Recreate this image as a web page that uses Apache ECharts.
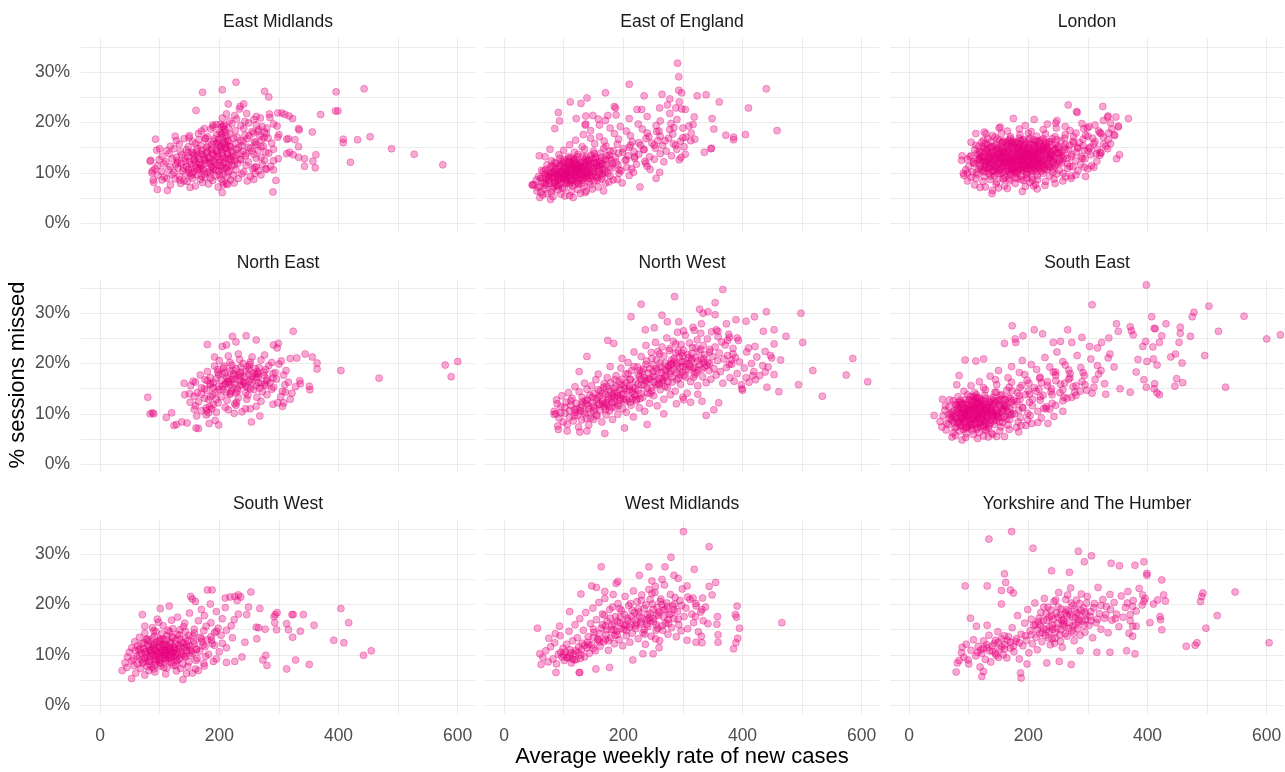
<!DOCTYPE html>
<html>
<head>
<meta charset="utf-8">
<script src="https://cdn.jsdelivr.net/npm/echarts@6/dist/echarts.min.js"></script>
<style>
  html, body { margin: 0; padding: 0; background: #fff; }
  #chart { width: 1285px; height: 772px; }
</style>
</head>
<body>
<div id="chart"></div>
<script>
// facet names, in panel order (row by row)
var regions = ['East Midlands', 'East of England', 'London', 'North East', 'North West',
  'South East', 'South West', 'West Midlands', 'Yorkshire and The Humber'];

// axis ticks
var xGrid = [0, 100, 200, 300, 400, 500, 600];
var xLabels = [0, 200, 400, 600];
var yGrid = [0, 5, 10, 15, 20, 25, 30, 35];
var yLabels = [0, 10, 20, 30];

// [average weekly rate of new cases, % sessions missed]
var eastMidlands = [
  [228,28.0],[172,26.0],[205,26.5],[276,26.2],[283,25.1],[396,26.1],[443,26.7],[395,22.3],[399,22.3],[370,21.6],
  [453,17.2],[432,16.6],[408,16.7],[408,16.0],[420,12.1],[489,14.8],[527,13.7],[575,11.6],[356,18.1],[333,18.8],
  [334,18.5],[333,15.2],[333,13.1],[343,12.8],[343,11.3],[357,12.3],[361,11.0],[362,13.6],[324,13.6],[318,14.1],
  [313,13.8],[327,16.6],[316,16.8],[313,16.7],[323,20.8],[317,21.3],[310,21.6],[305,21.9],[298,21.9],[284,21.7],
  [285,21.0],[290,6.2],[295,8.5],[291,10.6],[291,12.4],[299,12.8],[298,17.1],[300,17.6],[291,19.7],[297,19.3],
  [280,18.9],[278,10.8],[258,8.7],[260,9.9],[262,11.2],[241,23.7],[235,23.2],[234,22.7],[215,23.7],[212,21.7],
  [205,20.9],[161,22.4],[126,17.3],[93,16.7],[95,14.5],[100,14.8],[85,12.5],[84,12.3],[88,10.4],[87,10.0],
  [89,8.6],[90,8.1],[96,6.7],[113,6.5],[151,7.1],[205,6.1],[207,7.6],[206,8.2],[212,7.9],[134,8.6],
  [175,18.8],[189,19.5],[190,19.1],[204,19.1],[202,19.6],[176,16.8],[149,17.0],
  [118,7.6],[135,7.9],[160,7.4],[182,7.8],[198,7.2],[214,7.7],[225,8.0],[172,8.1],[146,8.3],
  [104,8.6],[126,8.8],[141,8.4],[155,8.9],[168,8.7],[189,8.5],[203,8.8],[219,8.6],[232,8.9],[247,8.4],[112,8.9],
  [97,9.5],[108,9.2],[121,9.7],[133,9.3],[144,9.8],[152,9.4],[163,9.6],[176,9.1],[185,9.9],[194,9.4],[206,9.7],[213,9.2],[224,9.5],[238,9.8],[252,9.3],[270,9.6],
  [92,10.8],[103,10.3],[115,10.6],[124,10.1],[131,10.9],[139,10.4],[148,10.7],[157,10.2],[166,10.8],[173,10.5],[181,10.1],[190,10.7],[199,10.3],[209,10.9],[217,10.4],[228,10.6],[241,10.2],[256,10.8],[266,10.4],[279,10.7],
  [96,11.4],[107,11.8],[118,11.2],[127,11.6],[136,11.9],[145,11.3],[153,11.7],[161,11.1],[170,11.5],[178,11.9],[187,11.3],[196,11.6],[204,11.2],[212,11.8],[221,11.4],[231,11.9],[245,11.5],[259,11.1],[272,11.7],[286,11.3],
  [99,12.6],[110,12.2],[121,12.8],[130,12.4],[142,12.9],[150,12.3],[158,12.7],[167,12.1],[175,12.5],[184,12.9],[192,12.2],[201,12.6],[208,12.1],[216,12.8],[226,12.4],[236,12.7],[249,12.2],[262,12.9],[276,12.5],
  [104,13.3],[116,13.8],[128,13.1],[137,13.6],[147,13.2],[156,13.9],[164,13.4],[172,13.7],[181,13.1],[190,13.5],[198,13.9],[206,13.3],[214,13.6],[223,13.2],[233,13.8],[244,13.4],[258,13.7],[270,13.1],[283,13.9],
  [112,14.4],[124,14.8],[135,14.2],[145,14.6],[154,14.1],[163,14.9],[171,14.5],[180,14.3],[188,14.8],[196,14.2],[204,14.6],[211,14.9],[220,14.4],[229,14.7],[240,14.2],[252,14.9],[265,14.5],[278,14.1],[291,14.7],
  [118,15.3],[133,15.7],[148,15.2],[160,15.8],[169,15.4],[179,15.1],[187,15.6],[195,15.9],[203,15.3],[210,15.7],[219,15.2],[227,15.8],[238,15.4],[249,15.1],[262,15.6],[274,15.3],[288,15.9],
  [128,16.4],[141,16.8],[155,16.2],[166,16.6],[177,16.9],[190,16.3],[199,16.7],[207,16.1],[214,16.5],[224,16.9],[236,16.4],[247,16.8],[259,16.2],[271,16.6],[282,16.9],
  [150,17.4],[165,17.8],[180,17.2],[196,17.6],[205,17.9],[212,17.3],[218,17.7],[230,17.1],[243,17.5],[257,17.9],[268,17.3],[279,17.8],
  [170,18.3],[186,18.7],[201,18.1],[209,18.6],[215,18.9],[227,18.4],[241,18.8],[255,18.2],[266,18.6],[276,18.1],
  [195,19.6],[207,19.3],[221,19.8],[236,19.4],[249,19.9],[262,19.5],[272,19.2],
  [217,20.3],[229,20.7],[243,20.2],[258,20.6],[269,20.9],[226,21.4],[246,21.8],[262,21.2],
  [160,12.0],[175,13.0],[185,12.0],[195,13.0],[205,14.0],[168,11.0],[190,11.0],[200,12.0],[210,13.0],[178,14.0],
  [158,13.5],[205,10.5],[215,11.5],[188,13.8],[165,12.8],[140,11.0],[130,12.0],[150,10.0],[220,12.5],[212,15.0],
  [198,16.0],[205,17.0],[210,18.0],[208,19.5],[215,16.2],[202,15.2],[195,14.5],[185,10.5],[175,9.8],[163,10.6]
];
var eastMidlandsCore = [
  [143,12.3],[148,14.0],[153,10.9],[157,12.5],[162,14.2],[166,11.7],[169,13.8],[173,10.8],[177,12.6],[181,15.6],
  [183,11.9],[186,14.4],[189,12.4],[192,16.8],[194,10.6],[197,13.3],[199,15.5],[201,11.4],[203,17.6],[206,12.7],
  [208,14.8],[210,16.4],[212,11.0],[214,13.9],[217,15.3],[219,12.9],[222,14.0],[225,11.6],[228,13.5],[232,15.0],
  [236,12.6],[240,16.2],[245,13.8],[250,17.4],[255,14.3],[260,16.0],[265,18.2],[270,15.2],[275,17.0],[155,9.8],
  [170,9.4],[185,9.0],[200,9.6],[215,10.1]
];

var eastOfEngland = [
  [291,31.8],[293,29.1],[210,27.6],[170,25.9],[111,24.1],[129,23.8],[139,24.9],[91,22.0],[93,20.3],[121,20.8],
  [137,21.3],[149,21.4],[158,20.7],[174,21.4],[185,23.2],[187,22.9],[223,22.6],[231,22.6],[235,25.3],[265,25.6],
  [278,24.7],[274,23.5],[261,22.9],[293,26.4],[298,25.9],[294,24.1],[288,22.9],[298,22.7],[304,22.6],[324,25.3],
  [339,25.5],[361,24.1],[440,26.7],[410,22.9],[458,18.4],[349,20.8],[352,18.7],[372,17.5],[385,17.1],[385,16.6],
  [405,17.6],[336,14.1],[347,14.8],[348,14.9],[319,21.1],[317,19.6],[314,17.9],[313,16.4],[304,13.7],[294,12.6],
  [297,13.1],[288,15.5],[255,8.9],[261,10.1],[245,10.7],[238,11.9],[228,7.2],[217,10.1],[198,8.0],[183,8.6],
  [167,6.4],[157,8.5],[137,19.7],[136,19.5],[85,18.8],[77,14.7],[59,13.4],[69,13.2],[47,7.6],[48,7.6],
  [60,5.1],[78,4.7],[102,5.4],[116,5.1],[138,6.4],
  [65,5.6],[82,5.3],[95,5.8],[110,5.5],[128,5.9],[72,5.9],
  [55,6.4],[68,6.8],[79,6.2],[90,6.6],[101,6.9],[113,6.3],[124,6.7],[136,6.1],[148,6.8],[62,6.1],
  [50,7.7],[60,7.3],[71,7.8],[83,7.2],[92,7.6],[104,7.9],[115,7.4],[125,7.8],[134,7.3],[145,7.7],[158,7.2],[170,7.9],
  [54,8.6],[64,8.2],[75,8.8],[86,8.4],[96,8.9],[105,8.3],[114,8.7],[122,8.1],[131,8.6],[140,8.9],[151,8.4],[163,8.8],[176,8.2],[190,8.7],
  [58,9.3],[69,9.8],[80,9.2],[90,9.6],[99,9.1],[108,9.7],[117,9.4],[126,9.9],[135,9.2],[144,9.6],[154,9.3],[165,9.8],[178,9.4],[193,9.9],[210,9.5],
  [63,10.5],[75,10.1],[86,10.7],[95,10.3],[104,10.8],[113,10.2],[121,10.6],[130,10.9],[139,10.3],[148,10.7],[158,10.1],[169,10.5],[181,10.9],[196,10.4],[214,10.8],
  [72,11.6],[84,11.2],[97,11.8],[108,11.3],[118,11.7],[127,11.1],[136,11.5],[145,11.9],[155,11.4],[166,11.8],[178,11.2],[191,11.6],[206,11.1],[222,11.7],[240,11.3],
  [80,12.4],[94,12.9],[107,12.3],[120,12.7],[132,12.2],[143,12.6],[154,12.9],[164,12.4],[176,12.8],[188,12.1],[203,12.5],[219,12.9],[236,12.3],[252,12.7],[268,12.2],
  [92,13.6],[108,13.2],[124,13.7],[138,13.3],[151,13.8],[163,13.1],[176,13.5],[192,13.9],[208,13.4],[226,13.7],[244,13.2],[262,13.8],[281,13.4],
  [100,14.5],[118,14.1],[135,14.7],[150,14.3],[167,14.9],[183,14.4],[200,14.8],[218,14.2],[235,14.6],[254,14.9],[272,14.3],[290,14.7],
  [110,15.6],[131,15.2],[152,15.8],[171,15.3],[190,15.7],[210,15.1],[229,15.5],[248,15.9],[266,15.4],[284,15.8],[302,15.2],
  [120,16.5],[145,16.9],[168,16.3],[192,16.7],[215,16.2],[238,16.8],[258,16.4],[276,16.9],[296,16.3],[320,16.7],
  [133,17.6],[160,17.2],[185,17.8],[212,17.4],[240,17.9],[262,17.3],[283,17.7],[305,17.1],
  [145,18.4],[178,18.9],[205,18.3],[232,18.7],[256,18.2],[278,18.6],[300,18.9],
  [160,19.5],[195,19.2],[225,19.7],[255,19.4],[280,19.8],[310,19.3],
  [170,20.4],[210,20.8],[262,20.3],[290,20.6],[188,21.5],[240,21.2],[278,21.8],
  [100,9.0],[110,10.0],[120,9.5],[95,8.0],[105,11.0],[115,8.5],[125,10.5],[85,9.5],[130,9.8],[90,10.8],
  [140,10.0],[100,12.0],[110,11.5],[120,12.0],[75,8.5],[88,7.5],[130,11.3],[145,9.0],[150,11.0],[160,10.5],
  [118,10.8],[108,9.5],[98,10.2],[128,8.8],[138,12.0],[80,10.0],[70,9.0],[112,13.0],[155,12.0],[170,11.5]
];
var eastOfEnglandCore = [
  [57,7.1],[61,8.9],[66,10.3],[70,7.5],[73,9.4],[77,11.0],[81,6.8],[83,8.9],[85,12.1],[88,9.9],
  [91,7.3],[93,11.5],[96,10.0],[98,7.0],[101,12.6],[103,9.2],[106,10.4],[109,8.0],[111,12.2],[113,9.7],
  [116,11.2],[119,7.7],[121,10.1],[123,13.2],[126,9.1],[128,11.9],[131,7.9],[133,10.6],[136,12.8],[138,9.5],
  [141,11.0],[143,8.2],[146,13.5],[149,10.2],[152,12.0],[156,9.0],[159,11.4],[162,13.9],[166,10.8],[170,12.6],
  [174,9.9],[178,14.3],[182,11.8],[187,13.1],[193,10.6],[199,14.1],[205,12.6],[212,15.5],[219,13.2],[226,16.0],
  [234,14.7],[243,17.2],[252,15.5],[260,18.3],[270,16.4],[285,19.0],[300,17.0],[105,9.9],[95,9.3],[115,10.5],
  [125,11.3],[85,10.3],[135,9.9],[100,8.6],[110,7.8],[120,8.9],[90,8.5],[78,9.7],[68,8.0],[130,10.2],
  [140,9.4],[150,12.8],[160,9.7],[118,12.4],[108,12.8],[142,11.7],
  [90,9.2],[100,10.6],[110,9.0],[120,10.4],[130,12.0],[95,11.4],[105,8.6],[115,12.0],[125,8.4],[135,11.1],
  [85,8.1],[140,12.5],[145,10.4],[80,11.4],[75,9.2],[150,9.9],[155,11.5],[160,12.2],[165,9.3],[170,10.1],
  [102,11.1],[112,10.9],[122,11.6],[92,10.1],[132,9.6],
  [64,9.0],[70,10.6],[76,7.9],[82,10.0],[87,11.9],[92,8.8],[97,12.3],[102,9.6],[107,11.7],[112,8.4],
  [117,12.7],[122,9.3],[127,11.6],[132,13.3],[137,10.6],[142,12.2],[147,9.4],[153,13.1],[158,10.9],[164,11.8],
  [172,13.4],[180,12.5],[104,10.1],[94,9.8],[114,11.4],[124,10.7],[134,8.9],[84,7.9],[144,11.3],[119,9.9]
];

var london = [
  [267,23.5],[281,22.2],[282,22.0],[325,23.2],[368,20.8],[347,21.1],[334,21.3],[351,19.3],[351,19.1],[344,17.6],
  [338,15.8],[353,13.6],[348,12.8],[333,14.8],[321,14.1],[320,13.5],[310,11.1],[294,11.1],[272,9.4],[275,11.2],
  [259,9.9],[209,7.4],[207,8.6],[139,5.9],[119,7.1],[89,13.4],[88,12.5],[91,9.9],[98,9.9],[104,16.1],
  [112,17.8],[126,18.1],[129,17.8],[153,19.1],[151,18.9],[175,20.8],[210,20.6],[248,20.4],[246,19.9],[302,19.2],
  [299,18.9],[333,21.1],[326,20.4],[326,17.1],[282,15.1],[294,14.5],[304,15.1],
  [140,6.5],[165,6.9],[190,6.3],[215,6.8],[150,7.0],
  [110,7.6],[128,7.2],[146,7.8],[160,7.4],[178,7.9],[195,7.3],[212,7.7],[228,7.5],[245,7.9],
  [98,8.4],[112,8.9],[124,8.3],[136,8.7],[147,8.2],[158,8.8],[169,8.4],[181,8.9],[192,8.5],[203,8.1],[216,8.7],[229,8.3],[243,8.8],[258,8.4],[272,8.9],
  [92,9.5],[104,9.1],[115,9.7],[126,9.3],[134,9.9],[143,9.4],[152,9.8],[161,9.2],[170,9.6],[179,9.9],[188,9.3],[197,9.7],[206,9.1],[215,9.5],[225,9.9],[236,9.4],[248,9.8],[262,9.2],[280,9.6],[296,9.3],
  [95,10.6],[106,10.2],[117,10.8],[125,10.4],[133,10.9],[141,10.3],[149,10.7],[157,10.1],[165,10.5],[173,10.9],[181,10.4],[189,10.8],[197,10.2],[205,10.6],[213,10.9],[222,10.3],[231,10.7],[241,10.1],[252,10.5],[266,10.9],[283,10.4],[300,10.8],
  [100,11.3],[110,11.8],[120,11.2],[128,11.6],[136,11.1],[144,11.5],[152,11.9],[160,11.4],[168,11.8],[176,11.2],[184,11.6],[192,11.1],[200,11.5],[208,11.9],[216,11.3],[225,11.7],[234,11.2],[244,11.6],[256,11.9],[270,11.3],[288,11.7],[306,11.4],
  [98,12.7],[108,12.2],[118,12.8],[127,12.3],[135,12.9],[143,12.4],[151,12.8],[159,12.1],[167,12.5],[175,12.9],[183,12.3],[191,12.7],[199,12.2],[207,12.6],[215,12.9],[224,12.4],[233,12.8],[242,12.1],[253,12.6],[265,12.9],[279,12.4],[295,12.8],[315,12.3],
  [104,13.4],[114,13.9],[123,13.3],[132,13.8],[140,13.2],[148,13.6],[156,13.1],[164,13.7],[172,13.3],[180,13.8],[188,13.2],[196,13.6],[204,13.9],[212,13.4],[221,13.8],[230,13.1],[239,13.5],[249,13.9],[260,13.3],[273,13.7],[289,13.2],[305,13.6],[322,13.9],
  [110,14.6],[121,14.1],[131,14.7],[140,14.3],[149,14.8],[157,14.2],[166,14.6],[174,14.1],[183,14.7],[191,14.3],[200,14.8],[208,14.2],[217,14.6],[226,14.9],[235,14.4],[245,14.8],[256,14.2],[268,14.6],[283,14.9],[300,14.3],[316,14.7],
  [117,15.3],[128,15.8],[138,15.2],[147,15.6],[156,15.9],[165,15.4],[174,15.8],[183,15.2],[192,15.6],[201,15.1],[210,15.5],[219,15.9],[229,15.3],[239,15.7],[250,15.2],[262,15.6],[276,15.9],[292,15.4],[310,15.8],[330,15.3],
  [125,16.5],[137,16.1],[148,16.7],[159,16.3],[170,16.8],[181,16.2],[192,16.6],[203,16.9],[214,16.4],[225,16.8],[236,16.2],[248,16.6],[261,16.9],[275,16.3],[292,16.7],[312,16.2],[334,16.6],
  [140,17.4],[155,17.8],[170,17.2],[186,17.6],[200,17.9],[214,17.3],[229,17.7],[245,17.2],[262,17.6],[280,17.9],[300,17.3],[322,17.8],[345,17.4],
  [165,18.3],[185,18.7],[205,18.2],[225,18.6],[247,18.9],[270,18.4],[293,18.8],[318,18.3],[340,18.7],
  [195,19.4],[232,19.7],[262,19.2],[290,19.8],[312,19.5],[338,19.9],
  [150,12.0],[160,12.6],[170,13.0],[180,12.2],[190,13.5],[200,12.8],[210,13.2],[165,11.5],[175,14.0],[185,11.8],
  [195,14.3],[205,11.7],[215,14.0],[140,12.5],[130,12.0],[220,12.0],[155,13.5],[145,11.0],[185,15.0],[175,10.5],
  [195,10.8],[160,14.5],[170,15.2],[200,15.5],[210,10.5],[150,15.0],[225,13.5],[135,14.0],[188,12.5],[178,13.2],
  [168,12.3],[158,11.2],[198,11.3],[208,14.5],[218,15.0],[228,12.5],[238,14.0],[148,13.0],[138,11.7],[128,13.2],
  [120,12.5],[118,14.2],[245,13.0],[250,15.0],[180,16.0],[190,16.5],[162,16.0],[212,16.0],[172,11.0],[182,10.0],
  [192,12.0],[202,13.8],[154,10.6],[164,13.8],[174,12.4],[184,14.6],[194,13.0],[142,15.3],[132,10.8],[222,11.4]
];
var londonCore = [
  [113,10.1],[119,11.4],[124,12.2],[129,14.5],[134,12.7],[137,9.4],[142,13.9],[146,10.9],[151,14.1],[153,12.3],
  [157,16.2],[162,10.3],[163,12.9],[167,14.3],[169,9.9],[171,16.1],[173,12.1],[176,15.4],[177,10.2],[179,11.6],
  [182,14.9],[184,13.3],[186,10.8],[187,16.4],[189,12.6],[191,15.1],[193,11.3],[194,13.7],[196,16.0],[198,9.8],
  [199,14.1],[201,12.4],[203,10.7],[204,15.8],[206,13.5],[207,11.1],[209,16.6],[211,12.1],[213,14.7],[214,10.2],
  [216,13.0],[218,16.3],[219,11.8],[221,14.5],[223,12.3],[226,15.4],[227,10.6],[231,13.7],[233,12.0],[235,16.1],
  [237,11.2],[240,14.3],[243,12.7],[246,15.6],[249,11.9],[252,13.9],[255,16.4],[258,12.8],[262,14.7],[266,11.8],
  [269,15.5],[272,13.2],[276,17.2],[281,14.1],[286,16.0],[291,12.9],[296,17.5],[302,14.9],[308,16.9],[314,13.8],
  [320,18.0],[326,15.7],[335,17.9],[148,9.8],[158,8.9],[168,8.8],[178,9.1],[188,8.7],[198,8.9],[138,10.2],
  [128,11.0],[118,12.9],[108,11.9],[102,13.2],[112,15.5],[122,16.1],[132,16.8],[144,17.1],[156,11.7],[166,13.1],
  [174,14.7],[183,12.9],[192,14.9],[202,11.6],[212,13.6],[222,14.1],[232,15.0],[242,13.3],[152,13.2],[162,15.2],
  [172,10.6],[181,12.5],[191,10.4],[201,16.7],[211,15.2],[220,10.9],[230,11.6],[240,16.8],[250,14.0],[260,15.1],
  [171,13.6],[186,13.9],[196,12.4],[206,12.9],[217,12.6],[160,13.1],
  [115,12.6],[125,14.9],[135,13.3],[145,12.9],[155,14.6],[165,10.9],[175,11.9],[185,16.9],[195,11.7],[205,13.1],
  [215,12.4],[225,14.8],[235,13.0],[245,11.3],[255,13.5],[122,10.7],[132,15.5],[142,10.4],[152,16.4],[162,11.9],
  [172,14.9],[182,11.4],[192,13.3],[202,14.4],[212,11.4],[222,16.5],[232,14.4],[150,13.7],[160,12.2],[170,12.0],
  [180,14.3],[190,12.9],[200,10.9],[210,14.0],[220,13.3],[230,15.8],[240,12.4],[187,11.1],[177,15.9],[167,16.5],
  [157,15.0],[147,14.4],[137,12.1],[127,12.6],[117,13.6],[197,14.7],[207,15.6],[217,11.0],[227,13.9],[237,12.9],
  [121,13.1],[126,10.2],[131,12.3],[136,15.1],[141,11.9],[146,14.9],[151,10.4],[156,12.7],[161,14.0],[166,15.9],
  [171,12.6],[176,10.7],[181,13.5],[186,15.6],[191,11.9],[196,14.0],[201,12.0],[206,10.3],[211,13.8],[216,15.4],
  [221,12.7],[226,11.0],[231,14.7],[236,13.6],[241,10.8],[124,15.2],[134,11.4],[144,13.4],[154,11.1],[164,12.0],
  [174,16.3],[184,10.6],[194,15.5],[204,13.2],[214,11.7],[224,15.1],[234,11.4],[244,14.6],[158,14.1],[168,10.2],
  [178,12.8],[188,14.2],[198,13.6],[208,12.2],[218,14.2],[228,16.2],[148,11.6],[138,13.7],[128,14.1],[253,12.2]
];

var northEast = [
  [600,20.4],[579,19.7],[589,17.4],[468,17.1],[404,18.6],[364,18.9],[364,20.1],[356,21.3],[344,21.9],[324,26.4],
  [330,21.1],[319,21.0],[351,15.5],[352,14.8],[335,16.6],[336,16.0],[319,12.9],[308,12.2],[306,11.5],[311,14.3],
  [299,24.0],[297,23.1],[291,23.7],[262,24.7],[245,25.5],[222,25.4],[228,24.3],[212,23.7],[205,23.4],[180,23.8],
  [192,21.3],[254,8.4],[268,9.6],[244,11.0],[252,11.0],[225,10.1],[226,12.0],[199,7.8],[193,8.7],[183,8.1],
  [165,7.1],[161,7.2],[146,8.2],[137,8.4],[124,7.7],[128,7.9],[111,9.3],[120,10.2],[90,10.0],[84,10.0],
  [88,10.2],[80,13.3],[141,16.1],[142,13.8],[150,14.0],[156,16.5],[151,12.3],[158,10.9],[162,9.6],[179,10.7],[184,11.4],
  [170,10.6],[195,10.3],[215,10.8],[238,10.4],
  [160,11.6],[178,11.2],[190,11.8],[210,11.3],[228,11.7],[262,11.5],[290,11.9],
  [165,12.4],[182,12.8],[198,12.2],[213,12.7],[229,12.3],[246,12.9],[270,12.5],[298,12.2],
  [158,13.5],[175,13.1],[189,13.8],[203,13.4],[218,13.9],[232,13.2],[248,13.7],[263,13.3],[280,13.8],[303,13.4],
  [163,14.2],[179,14.7],[193,14.3],[206,14.8],[219,14.1],[231,14.6],[244,14.2],[258,14.8],[272,14.4],[288,14.9],[306,14.5],[322,14.1],
  [152,15.6],[170,15.2],[185,15.8],[198,15.4],[210,15.9],[222,15.3],[235,15.7],[248,15.2],[262,15.6],[276,15.9],[291,15.3],[310,15.8],[328,15.4],
  [160,16.3],[176,16.8],[190,16.2],[203,16.7],[215,16.3],[227,16.9],[240,16.4],[253,16.8],[266,16.2],[280,16.6],[296,16.9],[316,16.3],
  [168,17.7],[185,17.2],[199,17.8],[212,17.3],[224,17.9],[236,17.4],[249,17.8],[262,17.2],[275,17.6],[290,17.1],[308,17.7],
  [180,18.4],[197,18.8],[210,18.2],[223,18.7],[236,18.3],[250,18.9],[264,18.4],[278,18.8],[294,18.2],[312,18.6],
  [192,19.5],[207,19.1],[221,19.7],[236,19.3],[251,19.8],[267,19.2],[283,19.6],[300,19.9],
  [200,20.6],[218,20.2],[234,20.8],[252,20.3],[270,20.7],[288,20.2],[304,20.5],
  [215,21.5],[232,21.9],[255,21.3],[276,21.7],
  [225,16.0],[235,18.0],[245,15.5],[215,17.0],[205,18.0],[255,17.5],[228,19.0],[240,20.0],[220,14.5],[250,16.5],
  [265,18.0],[210,16.0],[195,17.0],[185,16.0],[175,15.0],[230,15.0],[260,19.0],[270,16.0],[280,17.0],[200,14.8],
  [242,17.3],[218,18.5],[187,11.0],[182,10.2],[178,9.8]
];
var northEastCore = [
  [205,15.5],[215,16.5],[225,17.5],[235,16.6],[245,18.5],[255,16.3],[265,17.3],[275,18.3],[285,16.2],[198,18.3],
  [208,19.5],[218,15.8],[228,14.2],[238,15.8],[248,19.4],[258,18.1],[268,15.1],[278,15.6],[212,14.3],[222,16.9],
  [232,17.7],[242,16.1],[252,15.0],[262,17.8],[190,15.2],[180,16.6],[170,13.9],[195,12.9],[185,13.4],[290,18.0]
];

var northWest = [
  [367,34.7],[286,33.3],[230,31.8],[213,29.3],[265,29.6],[328,30.8],[342,30.3],[334,30.0],[354,32.1],[354,29.7],
  [389,28.7],[406,28.4],[420,29.3],[440,30.3],[498,30.0],[501,24.2],[473,25.4],[453,26.7],[435,26.4],[453,23.9],
  [438,22.4],[464,20.7],[449,21.1],[447,21.6],[421,23.4],[410,23.1],[585,21.0],[518,18.6],[574,17.7],[610,16.4],
  [534,13.5],[494,15.8],[461,14.4],[441,15.3],[453,17.8],[438,18.3],[443,19.3],[422,16.8],[417,17.6],[406,17.2],
  [400,14.7],[399,15.0],[339,9.7],[352,10.8],[360,12.2],[332,12.5],[313,12.3],[325,13.9],[301,12.8],[169,6.1],
  [139,21.4],[174,24.6],[184,24.0],[126,18.4],[89,12.0],[87,10.0],[84,9.9],[91,6.9],[106,6.6],[127,6.4],
  [139,6.6],[202,7.2],[240,7.9],[268,10.0],[289,12.0],[300,13.3],[237,26.7],[252,27.1],[274,28.3],[293,28.3],
  [301,26.5],[317,27.2],[331,27.9],[356,26.7],[359,26.4],[373,27.9],[378,25.2],[375,24.6],[391,25.1],[384,21.9],
  [382,20.7],[378,19.8],
  [84,10.5],[88,12.8],[92,9.2],[95,11.4],[97,13.6],[99,8.4],[90,7.6],
  [102,10.1],[104,12.3],[106,7.9],[108,14.2],[110,9.3],[112,11.7],[114,13.1],[116,8.6],[118,10.8],[119,15.4],
  [121,12.1],[123,9.7],[125,7.4],[126,14.4],[128,11.2],[130,8.8],[131,13.3],[133,10.4],[135,16.1],[136,12.6],[138,9.1],[139,14.9],
  [141,11.6],[142,7.8],[144,13.7],[145,10.2],[147,15.6],[148,12.3],[150,8.9],[151,14.1],[153,11.1],[154,16.8],[156,9.6],[157,13.2],[159,12.0],[158,17.9],
  [161,10.7],[162,14.6],[164,8.4],[165,12.5],[167,15.3],[168,11.4],[170,13.9],[171,9.8],[173,17.2],[174,12.9],[176,14.8],[177,10.6],[179,16.2],[178,19.4],
  [181,12.2],[182,8.9],[184,15.1],[185,13.4],[187,11.3],[188,17.6],[190,14.2],[191,9.9],[193,16.4],[194,12.7],[196,19.1],[197,13.8],[199,11.0],[198,21.0],
  [201,15.6],[202,12.4],[204,17.9],[205,10.3],[207,14.5],[208,20.2],[210,13.1],[211,16.8],[213,11.7],[214,18.6],[216,15.2],[217,9.4],[219,13.9],[218,22.3],
  [221,16.4],[222,12.6],[224,19.3],[225,14.7],[227,11.2],[228,17.5],[230,21.4],[231,15.8],[233,13.3],[234,18.9],[236,10.5],[237,16.6],[239,20.5],[238,23.6],
  [241,14.2],[242,18.1],[244,12.1],[245,16.9],[247,22.2],[248,15.3],[250,19.7],[251,13.6],[253,17.4],[254,24.2],[256,20.8],[257,11.6],[259,16.1],[258,18.6],
  [261,21.9],[262,14.8],[264,18.2],[265,23.3],[267,16.7],[268,12.9],[270,20.1],[271,17.3],[273,25.1],[274,15.2],[276,19.2],[277,22.6],[279,13.8],[278,17.9],
  [281,20.7],[282,16.3],[284,24.4],[285,18.8],[287,14.5],[288,22.1],[290,19.6],[291,26.2],[293,17.1],[294,21.3],[296,15.9],[297,23.8],[299,18.3],[298,20.4],
  [301,22.7],[302,17.6],[304,25.6],[305,19.9],[307,14.1],[308,21.8],[310,18.7],[311,24.1],[313,16.4],[314,20.6],[316,23.2],[317,19.1],[319,26.6],[318,17.3],
  [321,21.2],[322,18.2],[324,24.7],[325,15.6],[327,22.4],[328,19.8],[330,26.0],[331,20.9],[333,17.4],[334,23.6],[336,19.3],[337,21.7],[339,16.2],
  [341,24.9],[342,20.2],[344,18.6],[345,22.8],[347,16.9],[348,26.3],[350,21.4],[352,19.0],[354,23.3],[356,17.7],[358,20.6],[359,25.3],
  [361,22.1],[363,18.4],[365,24.3],[367,16.1],[369,20.9],[371,23.7],[373,19.2],[375,21.6],[377,25.8],[379,17.2],
  [382,19.9],[384,23.0],[386,16.5],[388,21.2],[391,18.0],[393,24.6],[395,20.3],[398,15.8],
  [403,19.1],[407,22.3],[411,16.3],[415,20.0],[419,18.4],[424,21.3],[429,17.6],[434,19.6],
  [180,13.0],[200,14.0],[220,15.0],[240,16.5],[260,17.0],[280,18.5],[190,12.0],[210,15.5],[230,14.0],[250,17.5],
  [270,18.8],[290,20.0],[175,11.5],[195,13.2],[215,14.4],[235,17.2],[255,15.8],[275,19.5],[295,17.8],[310,20.0],
  [165,12.0],[185,14.0],[205,12.8],[225,16.0],[245,19.0],[265,16.2],[285,21.0],[305,18.8],[160,13.5],[170,10.8],
  [150,11.5],[140,12.8],[130,11.8],[120,10.3],[110,10.6],[155,9.8],[145,9.2],[135,10.0],[315,22.0],[325,20.5],
  [300,21.5],[280,20.0],[262,19.3],[248,14.5],[228,13.0],[212,12.3],[196,15.8],[186,16.8],[172,15.5],[320,19.2],
  [335,21.0],[345,20.0],[270,15.5],[290,16.8]
];
var northWestCore = [
  [150,10.6],[160,11.8],[170,12.2],[180,11.2],[190,13.6],[200,12.9],[210,14.8],[220,13.6],[230,16.9],[240,15.1],
  [250,18.4],[260,15.8],[270,17.6],[280,19.8],[290,18.2],[300,19.4],[310,21.2],[320,17.8],[330,22.8],[340,19.6],
  [155,12.9],[165,14.1],[175,13.4],[185,12.5],[195,14.9],[205,16.2],[215,13.0],[225,17.8],[235,15.7],[245,14.0],
  [255,19.0],[265,17.1],[275,16.4],[285,20.3],[295,19.2],[305,17.3],[315,20.9],[325,18.6],[335,20.2],[345,22.3],
  [172,11.9],[182,13.7],[192,11.6],[202,15.0],[212,16.9],[222,12.9],[232,18.3],[242,17.0],[252,16.3],[262,20.1],
  [272,18.6],[282,17.3],[292,22.5],[302,20.3],[312,19.4],[322,23.1],[332,18.9],[142,11.0],[132,12.4],[122,11.0],
  [112,12.6],[102,11.3],[95,10.2],[118,9.6],[128,10.6],[138,12.0],[148,13.3],[158,14.8],[168,16.0],[178,14.4],
  [188,15.4],[198,16.9],[208,18.0],[218,19.4],[228,18.6],[238,19.8],[248,21.0],[258,22.4],[268,21.5],[278,23.0],
  [288,23.9],[298,22.1]
];

var southEast = [
  [398,35.6],[307,31.7],[503,31.4],[478,30.2],[475,29.3],[562,29.4],[519,26.4],[600,24.9],[623,25.7],[496,21.6],
  [531,15.3],[458,20.1],[447,21.9],[439,21.3],[449,17.0],[446,15.5],[459,16.2],[455,27.2],[455,26.0],[453,24.2],
  [472,25.4],[431,27.9],[424,25.5],[420,24.2],[413,26.9],[411,27.0],[407,29.3],[397,24.4],[392,23.4],[409,23.3],
  [410,20.9],[399,20.4],[416,19.7],[384,20.8],[381,18.3],[394,16.8],[398,15.3],[412,16.0],[411,15.0],[420,13.8],
  [416,14.2],[371,14.3],[354,15.0],[348,27.9],[371,27.3],[373,26.5],[376,25.7],[351,26.4],[335,25.1],[323,24.2],
  [310,15.3],[307,14.1],[328,16.0],[330,13.9],[344,19.3],[334,21.1],[337,21.9],[316,23.1],[303,23.4],[290,25.2],
  [273,24.2],[266,26.7],[254,24.4],[242,24.2],[224,25.9],[210,26.7],[191,25.5],[178,24.9],[179,24.2],[173,27.5],
  [160,24.0],[125,20.9],[112,20.5],[94,20.7],[84,17.6],[80,15.8],[56,12.9],[42,9.7],[72,5.4],[89,4.8],
  [115,5.1],[133,5.4],[147,5.5],[206,8.1],[233,8.1],[243,9.5],[258,10.5],[188,7.7],[230,11.0],[230,11.4],
  [265,13.1],[273,13.3],[287,14.5],
  [78,5.7],[95,5.3],[108,5.9],[125,5.6],[140,5.9],[160,5.5],
  [62,6.8],[74,6.2],[85,6.6],[96,6.1],[106,6.8],[117,6.3],[128,6.7],[139,6.2],[152,6.6],[168,6.9],[184,6.4],
  [55,7.4],[66,7.9],[77,7.2],[87,7.6],[97,7.1],[106,7.8],[115,7.3],[124,7.7],[133,7.2],[143,7.9],[154,7.4],[166,7.8],[180,7.3],[196,7.7],
  [52,8.5],[63,8.1],[73,8.7],[83,8.3],[92,8.9],[101,8.4],[110,8.8],[118,8.2],[127,8.6],[136,8.1],[146,8.7],[157,8.3],[169,8.9],[183,8.4],[199,8.8],[216,8.3],
  [57,9.6],[68,9.2],[78,9.8],[88,9.3],[97,9.7],[106,9.1],[114,9.5],[122,9.9],[131,9.4],[140,9.8],[150,9.2],[161,9.6],[173,9.9],[187,9.3],[203,9.7],[222,9.2],
  [60,10.7],[72,10.3],[83,10.8],[93,10.2],[102,10.6],[111,10.9],[119,10.4],[128,10.8],[137,10.2],[147,10.6],[158,10.9],[170,10.3],[184,10.7],[199,10.1],[216,10.5],[236,10.9],
  [67,11.4],[79,11.8],[91,11.3],[101,11.7],[111,11.2],[120,11.6],[130,11.1],[140,11.5],[151,11.9],[163,11.4],[176,11.8],[191,11.2],[207,11.6],[226,11.1],[246,11.7],
  [74,12.6],[88,12.2],[101,12.8],[113,12.3],[124,12.7],[135,12.2],[147,12.6],[159,12.9],[172,12.4],[186,12.8],[202,12.3],[220,12.7],[240,12.1],[258,12.6],
  [82,13.4],[98,13.8],[113,13.2],[127,13.7],[141,13.3],[155,13.8],[170,13.1],[185,13.6],[202,13.9],[220,13.4],[240,13.8],[260,13.3],[280,13.7],
  [92,14.5],[110,14.2],[128,14.8],[146,14.3],[164,14.7],[182,14.2],[200,14.6],[218,14.9],[238,14.4],[258,14.8],[278,14.3],[298,14.7],
  [104,15.6],[125,15.2],[147,15.8],[168,15.3],[189,15.7],[210,15.2],[232,15.6],[254,15.9],[275,15.4],[295,15.8],
  [118,16.4],[145,16.8],[172,16.3],[198,16.7],[222,16.2],[246,16.6],[268,16.9],[290,16.4],[312,16.8],
  [136,17.5],[166,17.2],[194,17.8],[220,17.3],[246,17.7],[270,17.2],[294,17.6],[318,17.9],
  [150,18.6],[185,18.2],[214,18.8],[242,18.3],[268,18.7],[292,18.2],[322,18.6],
  [172,19.4],[205,19.8],[236,19.3],[262,19.7],[288,19.2],[316,19.6],
  [190,20.6],[228,21.2],[258,20.4],[282,21.6],[305,20.9],[248,22.3],
  [90,9.0],[100,10.0],[110,9.5],[120,10.5],[105,8.0],[95,11.0],[115,12.0],[125,9.0],[85,10.0],[130,11.5],
  [135,9.8],[100,7.5],[110,11.0],[120,8.3],[140,10.3],[145,12.2],[80,9.0],[88,7.8],[75,8.3],[105,12.5],
  [118,13.0],[150,10.0],[155,11.2],[160,12.0],[92,10.6],[112,10.2],[128,12.4],[98,9.3],[138,8.8],[70,10.0],
  [165,10.5],[175,12.7],[108,13.5],[83,11.6],[122,11.4]
];
var southEastCore = [
  [71,8.9],[76,10.6],[79,7.4],[84,12.3],[86,9.1],[89,10.9],[91,6.9],[94,12.8],[96,8.6],[99,11.2],
  [101,9.8],[103,13.4],[105,7.2],[107,10.4],[109,12.1],[111,8.1],[113,13.8],[115,9.7],[117,11.0],[119,7.6],
  [121,12.6],[123,10.1],[126,8.4],[128,13.1],[130,9.3],[132,11.9],[134,7.7],[137,12.9],[139,10.7],[142,8.6],
  [144,14.3],[146,9.9],[149,12.5],[152,8.4],[154,13.6],[157,10.4],[160,11.6],[163,9.0],[166,13.3],[169,11.1],
  [173,14.6],[177,10.0],[181,12.4],[186,15.2],[190,11.3],[195,13.8],[201,16.1],[207,12.9],[213,14.5],[219,17.1],
  [225,13.7],[232,16.4],[239,15.0],[246,18.3],[253,14.2],[261,16.1],[270,18.0],[280,15.6],[98,10.1],[108,9.0],
  [118,9.2],[93,9.5],[103,11.5],[113,11.8],[87,11.9],[124,11.1],[135,10.6],[140,11.9],[81,10.4],[96,7.5],
  [114,7.0],[129,6.9],[77,9.3],[66,9.9],[61,11.6],[68,12.8],[150,9.5],[158,10.7],
  [85,8.4],[95,10.4],[105,10.9],[115,8.9],[125,10.0],[135,12.4],[145,10.9],[90,12.0],[100,9.0],[110,12.7],
  [120,11.9],[130,8.1],[140,9.3],[80,11.1],[102,7.9],[112,9.9],[122,9.6],[132,10.3],[92,8.3],[108,11.4],
  [118,10.0],[128,9.9],[97,11.9],[87,10.3],[152,11.5],[162,12.8],[148,9.6],[138,11.2],[115,13.3],[126,7.4],
  [73,9.6],[78,11.9],[82,8.1],[86,12.7],[90,10.2],[94,7.3],[97,12.2],[101,10.9],[104,8.9],[107,12.9],
  [111,10.6],[114,7.9],[117,12.4],[121,9.0],[124,12.0],[127,10.6],[131,8.7],[134,11.3],[138,9.6],[142,12.7],
  [147,10.2],[153,12.9],[158,9.3],[164,11.8],[170,9.8],[88,9.7],[99,10.7],[109,9.4],[119,11.4],[129,10.8]
];

var southWest = [
  [253,22.5],[180,22.9],[188,22.9],[210,21.3],[218,21.5],[226,21.6],[232,21.9],[236,21.5],[230,20.8],[152,21.6],
  [155,21.1],[160,20.6],[268,19.2],[249,19.5],[246,18.0],[232,18.1],[404,19.2],[417,16.4],[359,15.9],[341,18.0],
  [324,18.0],[322,18.0],[294,18.0],[297,18.4],[292,17.6],[313,16.2],[316,15.0],[323,13.5],[336,14.7],[293,16.4],
  [296,15.0],[266,15.4],[262,15.5],[277,15.1],[263,13.2],[392,12.9],[409,12.4],[442,9.9],[455,10.8],[328,9.0],
  [313,7.2],[351,8.1],[278,9.9],[273,9.0],[280,7.9],[238,9.6],[243,12.5],[226,8.7],[212,8.5],[71,18.0],
  [101,19.2],[116,19.7],[96,17.1],[75,15.7],[37,6.9],[53,5.3],[139,5.1],[155,6.4],
  [60,6.4],[75,6.0],[92,6.6],[110,6.2],[128,6.8],[145,6.3],[165,6.9],[82,6.9],
  [45,7.5],[57,7.9],[68,7.3],[79,7.7],[90,7.2],[101,7.8],[112,7.4],[123,7.9],[135,7.3],[147,7.7],[160,7.2],[175,7.8],
  [42,8.4],[53,8.8],[63,8.2],[73,8.6],[83,8.1],[93,8.7],[102,8.3],[111,8.9],[120,8.4],[129,8.8],[139,8.2],[149,8.6],[161,8.9],[174,8.3],[190,8.7],
  [46,9.6],[56,9.2],[66,9.8],[75,9.3],[84,9.7],[92,9.1],[100,9.5],[108,9.9],[116,9.4],[124,9.8],[133,9.2],[142,9.6],[152,9.9],[163,9.3],[177,9.7],[195,9.2],
  [49,10.5],[59,10.9],[69,10.3],[78,10.7],[87,10.2],[95,10.6],[103,10.9],[111,10.4],[119,10.8],[127,10.2],[136,10.6],[145,10.9],[155,10.3],[167,10.7],[182,10.1],[200,10.6],
  [53,11.4],[63,11.8],[73,11.2],[82,11.6],[91,11.9],[99,11.3],[107,11.7],[115,11.1],[123,11.5],[132,11.9],[141,11.4],[151,11.8],[162,11.2],[176,11.6],[192,11.9],[212,11.4],
  [58,12.6],[70,12.2],[81,12.8],[91,12.3],[100,12.7],[109,12.1],[118,12.5],[127,12.9],[137,12.4],[147,12.8],[158,12.2],[171,12.6],[187,12.9],[205,12.3],
  [66,13.5],[79,13.1],[91,13.7],[102,13.2],[112,13.8],[122,13.4],[133,13.9],[144,13.3],[156,13.7],[170,13.2],[186,13.6],[203,13.9],[222,13.4],
  [75,14.3],[90,14.8],[104,14.2],[117,14.6],[130,14.1],[143,14.7],[158,14.3],[174,14.8],[192,14.4],[212,14.9],
  [88,15.4],[106,15.8],[122,15.2],[140,15.6],[158,15.1],[178,15.7],[198,15.3],[220,15.8],
  [98,16.5],[120,16.9],[142,16.3],[165,16.8],[186,16.4],[205,17.2],[130,17.5],[175,17.8],[225,17.0],
  [150,18.3],[195,18.6],[210,19.4],[170,19.0],[185,20.1],
  [90,10.0],[100,10.5],[110,11.0],[95,9.0],[105,12.0],[115,10.0],[85,11.0],[120,9.8],[80,9.5],[125,11.3],
  [100,8.5],[110,9.2],[130,10.4],[75,10.5],[88,12.0],[118,12.3],[135,11.6],[140,10.0],[70,9.0],[98,11.5],
  [108,10.8],[128,9.5],[92,8.0],[145,12.0],[150,11.0],[65,11.0],[112,13.0],[82,8.7]
];
var southWestCore = [
  [62,9.7],[67,11.2],[71,8.4],[74,12.4],[77,10.1],[80,11.9],[83,9.0],[86,10.5],[88,13.3],[90,11.4],
  [93,9.8],[95,12.5],[97,10.3],[99,8.9],[102,11.7],[104,10.0],[106,13.1],[109,9.5],[111,12.0],[113,10.7],
  [116,8.7],[118,11.3],[121,13.6],[123,10.5],[126,12.2],[129,9.0],[131,11.2],[134,13.1],[137,10.1],[140,12.4],
  [143,9.7],[146,11.5],[149,13.9],[153,10.7],[157,12.7],[162,11.0],[168,13.5],[173,11.9],[180,13.0],[188,12.2],
  [195,14.7],[87,7.6],[107,7.5],[127,7.9],[94,14.6],[114,14.9],[134,15.0],[78,13.1],[100,12.9],[120,10.2],
  [84,10.9],[105,9.3],[115,11.6],[125,10.9],[98,10.1],[109,10.4],[92,11.0],[119,9.4]
];

var westMidlands = [
  [301,34.5],[344,31.5],[280,29.4],[243,27.5],[270,27.5],[163,27.5],[319,27.0],[227,25.8],[285,25.8],[292,25.2],
  [265,25.0],[248,24.7],[254,23.6],[355,24.4],[344,23.6],[349,21.9],[307,23.7],[147,23.7],[155,23.4],[129,22.1],
  [191,24.6],[188,24.2],[169,22.6],[391,19.7],[388,18.0],[390,17.5],[395,15.3],[392,13.3],[389,12.4],[385,11.2],
  [466,16.4],[358,17.6],[357,16.1],[359,14.0],[359,12.5],[342,16.2],[331,13.7],[332,12.4],[322,12.5],[307,12.9],
  [322,19.7],[321,17.6],[308,21.5],[317,21.3],[332,19.0],[333,21.3],[56,15.3],[60,10.2],[62,8.1],[87,6.5],
  [126,6.5],[154,7.2],[177,7.5],[75,13.3],[93,15.7],[110,18.6],[127,6.5],[216,9.0],[233,10.2],[250,10.2],[260,11.4],
  [65,9.5],[70,10.8],[74,8.6],[78,11.6],[82,9.2],[85,12.4],[88,8.2],[91,10.1],[94,13.8],[97,9.6],[99,11.3],[86,14.2],
  [101,8.9],[103,10.6],[105,12.1],[107,9.4],[109,14.7],[111,11.0],[113,8.4],[115,12.8],[117,10.2],[119,16.0],[121,9.1],[123,13.4],[125,11.6],[127,17.2],[129,10.0],
  [131,12.3],[133,14.9],[135,9.6],[137,18.4],[139,11.4],[141,13.6],[143,10.3],[145,16.2],[147,12.0],[149,19.3],[151,14.5],[153,10.8],[155,17.0],[157,13.1],[159,20.4],
  [161,11.7],[163,15.3],[165,18.1],[167,12.6],[169,21.2],[171,14.0],[173,16.7],[175,10.9],[177,19.0],[179,13.4],[181,15.9],[183,22.0],[185,12.2],[187,17.6],[189,14.7],
  [191,20.2],[193,13.0],[195,16.4],[197,18.8],[199,11.8],[201,15.1],[203,21.6],[205,13.8],[207,17.3],[209,19.8],[211,12.5],[213,16.0],[215,14.3],[217,22.7],[219,18.4],
  [221,15.2],[223,20.6],[225,13.2],[227,17.7],[229,16.1],[231,21.9],[233,14.4],[235,19.2],[237,12.1],[239,17.0],[241,15.6],[243,23.0],[245,18.3],[247,13.7],[249,20.1],
  [251,16.6],[253,22.4],[255,14.9],[257,19.4],[259,17.8],[261,12.8],[263,21.1],[265,15.8],[267,18.9],[269,23.9],[271,16.3],[273,20.3],[275,14.1],[277,18.0],[279,22.0],
  [281,15.4],[283,19.7],[285,17.2],[287,21.4],[289,13.6],[291,18.6],[293,16.0],[295,20.8],[297,14.8],[299,23.1],[302,17.6],[305,19.3],[308,15.2],
  [312,21.0],[315,18.1],[318,16.4],[322,20.2],[326,14.6],[330,18.5],[334,16.8],[338,19.5],
  [180,15.0],[200,16.0],[220,17.0],[240,18.0],[260,18.5],[190,14.0],[210,15.5],[230,16.5],[250,17.2],[270,19.0],
  [170,15.8],[195,17.5],[215,18.8],[235,15.0],[255,16.0],[285,19.0],[160,14.2],[175,12.8],[205,14.8],[225,19.2],
  [245,16.8],[265,20.0],[110,9.8],[120,10.8],[100,10.0],[115,9.2],[130,11.0],[95,10.5],[140,12.5],[150,13.5],
  [185,16.2],[245,21.0],[275,17.0]
];
var westMidlandsCore = [
  [105,9.5],[112,10.4],[118,9.0],[124,10.5],[128,9.3],[135,11.9],[142,12.0],[150,15.1],[158,13.0],[165,16.0],
  [172,15.0],[178,17.3],[184,14.9],[190,16.7],[196,15.2],[202,18.0],[208,16.8],[214,17.6],[220,15.8],[226,18.5],
  [232,17.3],[238,19.9],[244,17.4],[250,19.0],[256,18.0],[262,20.6],[268,17.5],[274,19.6],[280,18.2],[286,20.1],
  [292,17.1],[298,19.8],[186,13.9],[204,15.9],[222,16.3],[240,16.1],[258,15.3],[276,16.2],[194,19.2],[212,20.2],
  [230,20.8],[248,22.2],[168,17.9],[182,19.5],[150,11.3],[160,12.6],[170,13.1],[236,14.1],[254,13.2],[266,14.9]
];

var yorkshire = [
  [172,34.5],[134,33.0],[208,31.2],[284,30.6],[306,29.7],[294,28.5],[339,28.2],[353,27.7],[394,28.5],[399,26.2],
  [399,25.8],[379,27.8],[269,26.4],[239,26.7],[160,26.1],[94,23.7],[131,23.7],[162,24.4],[155,22.8],[170,22.9],
  [175,22.3],[155,20.1],[424,24.9],[427,21.9],[430,20.7],[417,20.9],[410,20.1],[404,16.4],[421,17.6],[422,17.0],
  [424,15.0],[392,21.9],[394,20.6],[493,22.3],[491,21.6],[489,20.6],[547,22.5],[517,17.8],[498,15.3],[604,12.4],
  [465,11.7],[480,11.9],[483,12.4],[365,10.8],[379,10.2],[371,18.0],[375,15.7],[381,15.7],[375,13.7],[369,14.3],
  [366,20.3],[375,19.6],[337,10.5],[315,10.5],[287,10.8],[272,8.1],[252,8.7],[231,8.4],[198,8.2],[188,5.4],
  [187,6.4],[122,5.7],[125,6.7],[79,6.6],[81,8.4],[89,11.5],[103,17.3],[113,15.7],[131,15.9],[99,9.0],
  [84,8.9],[88,10.4],[92,9.5],[96,12.1],[100,8.2],[104,10.9],[108,13.0],[112,9.8],[116,11.7],[119,7.6],
  [122,10.3],[125,12.8],[128,9.1],[131,11.4],[134,13.9],[137,8.6],[140,10.7],[143,12.3],[146,9.9],[149,14.6],[152,11.1],[155,13.2],[158,10.0],
  [161,12.0],[164,9.4],[167,13.6],[170,11.3],[173,15.4],[176,10.6],[179,12.7],[182,17.8],[185,9.2],[188,14.1],[191,11.8],[194,16.3],[197,12.9],[199,19.0],
  [201,10.4],[203,14.8],[205,17.1],[207,12.2],[209,15.9],[211,20.3],[213,13.5],[215,11.0],[217,16.6],[219,14.2],[221,18.4],[223,12.6],[225,15.3],[227,21.2],[229,13.9],
  [231,16.9],[233,19.5],[235,14.6],[237,12.0],[239,17.7],[241,15.1],[243,20.6],[245,13.3],[247,18.3],[249,16.2],[251,22.4],[253,14.0],[255,19.1],[257,11.5],[259,17.0],
  [261,15.7],[263,21.0],[265,13.7],[267,18.7],[269,16.4],[271,23.3],[273,14.8],[275,19.8],[277,12.8],[279,17.4],[281,20.9],[283,15.2],[285,18.0],[287,13.9],[289,22.1],
  [291,16.7],[293,19.3],[295,14.5],[297,17.9],[299,21.6],[302,15.9],[305,18.6],[308,13.4],[311,20.2],[314,16.4],[317,23.4],[319,18.2],
  [322,15.1],[325,21.0],[328,17.3],[331,19.6],[334,14.4],[337,22.0],[340,16.9],[344,20.4],[348,18.1],[352,15.6],[356,21.7],[359,17.5],
  [363,19.4],[367,22.6],[371,16.8],[376,20.8],[381,18.7],[386,23.2],[391,19.9],[396,21.2],
  [240,16.0],[250,17.5],[260,16.5],[270,18.0],[280,16.0],[230,15.0],[255,15.0],[265,17.8],[245,14.5],[275,15.8],
  [285,17.0],[295,18.5],[235,17.5],[225,16.8],[215,15.0],[305,16.8],[250,19.5],[262,14.2],[272,20.3],[240,13.2],
  [150,12.5],[160,11.2],[140,11.8],[170,12.5],[130,12.0],[180,13.2],[120,11.0],[145,10.3]
];
var yorkshireCore = [
  [205,14.0],[212,16.0],[218,17.3],[224,14.4],[230,18.2],[236,15.6],[242,17.1],[248,15.3],[254,18.0],[258,16.1],
  [264,19.0],[268,15.3],[274,17.6],[278,19.1],[284,16.6],[288,18.8],[294,15.9],[298,20.3],[304,17.6],[310,19.4],
  [316,17.1],[322,19.8],[330,18.0],[338,19.0],[346,17.2],[254,12.7],[244,12.3],[234,13.4],[226,19.5],[246,20.9],
  [266,21.9],[286,20.2],[296,17.0],[276,14.3],[256,16.9],[238,18.9],[220,15.9],[262,18.3],[282,18.4],[135,10.8],
  [145,12.9],[155,11.6],[165,12.9],[175,11.7],[185,12.4],[195,13.8],[125,11.3],[115,10.5],[150,9.5],[160,13.8]
];

var panels = [
  eastMidlands.concat(eastMidlandsCore), eastOfEngland.concat(eastOfEnglandCore), london.concat(londonCore),
  northEast.concat(northEastCore), northWest.concat(northWestCore), southEast.concat(southEastCore),
  southWest.concat(southWestCore), westMidlands.concat(westMidlandsCore), yorkshire.concat(yorkshireCore)
];

var colLeft = [81, 485, 890];
var rowTop = [38, 279, 520];
var panelW = 394;
var panelH = 194;

var chart = echarts.init(document.getElementById('chart'));

var grids = [], xAxes = [], yAxes = [], series = [], texts = [];
var gridColor = '#ebebeb';
var font = '"Liberation Sans", Arial, sans-serif';
var dotColor = 'rgba(230,0,126,0.42)';

for (var i = 0; i < 9; i++) {
  var row = Math.floor(i / 3), col = i % 3;
  grids.push({ left: colLeft[col], top: rowTop[row], width: panelW, height: panelH });
  xAxes.push({
    type: 'value', gridIndex: i, min: -32, max: 629,
    axisLine: { show: false },
    axisTick: { show: false, customValues: xGrid },
    splitLine: { show: true, lineStyle: { color: gridColor, width: 1 } },
    axisLabel: {
      show: row === 2, customValues: xLabels, margin: 13,
      color: '#4d4d4d', fontSize: 17.5, fontFamily: font
    }
  });
  yAxes.push({
    type: 'value', gridIndex: i, min: -1.75, max: 36.8,
    axisLine: { show: false },
    axisTick: { show: false, customValues: yGrid },
    splitLine: { show: true, lineStyle: { color: gridColor, width: 1 } },
    axisLabel: {
      show: col === 0, customValues: yLabels, margin: 11,
      color: '#4d4d4d', fontSize: 17.5, fontFamily: font,
      formatter: function (v) { return v + '%'; }
    }
  });
  series.push({
    type: 'scatter', xAxisIndex: i, yAxisIndex: i,
    data: panels[i],
    symbol: 'circle', symbolSize: 7,
    itemStyle: { color: dotColor, borderColor: dotColor, borderWidth: 1 },
    silent: true
  });
  texts.push({
    type: 'text',
    x: colLeft[col] + panelW / 2, y: rowTop[row] - 16,
    style: {
      text: regions[i], fill: '#1a1a1a', font: '17.5px ' + font,
      align: 'center', verticalAlign: 'middle', textAlign: 'center', textVerticalAlign: 'middle'
    }
  });
}

texts.push({
  type: 'text', x: 682, y: 757,
  style: {
    text: 'Average weekly rate of new cases', fill: '#000', font: '22px ' + font,
    align: 'center', verticalAlign: 'middle', textAlign: 'center', textVerticalAlign: 'middle'
  }
});
texts.push({
  type: 'text', x: 18, y: 375, rotation: Math.PI / 2,
  style: {
    text: '% sessions missed', fill: '#000', font: '22px ' + font,
    align: 'center', verticalAlign: 'middle', textAlign: 'center', textVerticalAlign: 'middle'
  }
});

chart.setOption({
  animation: false,
  backgroundColor: '#fff',
  grid: grids,
  xAxis: xAxes,
  yAxis: yAxes,
  series: series,
  graphic: texts
});
</script>
</body>
</html>
